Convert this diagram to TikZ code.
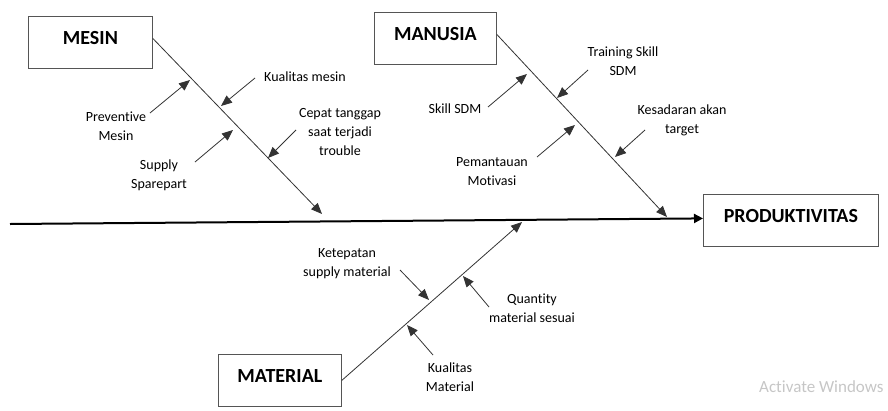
\documentclass[tikz,border=0pt]{standalone}
\usepackage{fontspec}
\setmainfont{Carlito}[Ligatures=NoCommon]
\usetikzlibrary{arrows.meta}
\definecolor{fishline}{HTML}{333333}
\definecolor{boxgray}{HTML}{555555}
\definecolor{watermark}{HTML}{C6C6C6}
\tikzset{
  category/.style={draw=boxgray,line width=0.8pt,anchor=north west,inner xsep=0pt,
    inner ysep=0pt,text height=28pt,text depth=24pt,
    font=\fontsize{20}{24}\selectfont\bfseries},
  cause/.style={align=center,inner sep=0pt,font=\fontsize{14}{19}\selectfont},
  bone/.style={draw=fishline,line width=0.8pt,-{Triangle[length=11pt,width=9pt]}},
  twig/.style={draw=fishline,line width=0.8pt,-{Triangle[length=11pt,width=9pt]}},
  spine/.style={draw=black,line width=2pt,-{Triangle[length=9pt,width=9pt]}}
}

\begin{document}
\begin{tikzpicture}[x=1pt,y=-1pt]
  \useasboundingbox (0,0) rectangle (888,410);
  \node[category,minimum width=124pt] (mesin) at (28,16) {MESIN};
  \node[category,minimum width=122pt] (manusia) at (374,12) {MANUSIA};
  \node[category,minimum width=123pt] (material) at (218,354) {MATERIAL};
  \node[category,minimum width=175pt] (produk) at (703,194) {PRODUKTIVITAS};

  \node[cause] (prev) at (116,126) {Preventive\\Mesin};
  \node[cause] (kmes) at (305,77) {Kualitas mesin};
  \node[cause] (supp) at (159,175) {Supply\\Sparepart};
  \node[cause] (cepat) at (340,132) {Cepat tanggap\\saat terjadi\\trouble};
  \node[cause] (train) at (623,61) {Training Skill\\SDM};
  \node[cause] (skill) at (455,109) {Skill SDM};
  \node[cause] (sadar) at (682,120) {Kesadaran akan\\target};
  \node[cause] (pantau) at (492,172) {Pemantauan\\Motivasi};
  \node[cause] (tepat) at (347,264) {Ketepatan\\supply material};
  \node[cause] (quant) at (532,308) {Quantity\\material sesuai};
  \node[cause] (kmat) at (450,377) {Kualitas\\Material};

  \coordinate (tail) at (10,224);
  \coordinate (mesin-t) at (322,214);
  \coordinate (manusia-t) at (667,217);
  \coordinate (material-t) at (522,222);
  \draw[spine] (tail) -- ([yshift=2pt]produk.west);
  \draw[bone] ([yshift=4pt]mesin.east) -- (mesin-t);
  \draw[bone] ([yshift=4pt]manusia.east) -- (manusia-t);
  \draw[bone] (material.east) -- (material-t);

  \coordinate (prev-s) at (150,113);   \coordinate (prev-t) at (190,80);
  \coordinate (kmes-s) at (255,78);    \coordinate (kmes-t) at (221,106);
  \coordinate (supp-s) at (195,162);   \coordinate (supp-t) at (233,130);
  \coordinate (cepat-s) at (296,130);  \coordinate (cepat-t) at (268,158);
  \coordinate (skill-s) at (488,107);  \coordinate (skill-t) at (527,74);
  \coordinate (train-s) at (588,70);   \coordinate (train-t) at (557,98);
  \coordinate (pantau-s) at (537,157); \coordinate (pantau-t) at (575,125);
  \coordinate (sadar-s) at (645,130);  \coordinate (sadar-t) at (615,157);
  \coordinate (tepat-s) at (400,270);  \coordinate (tepat-t) at (429,300);
  \coordinate (quant-s) at (489,307);  \coordinate (quant-t) at (463,276);
  \coordinate (kmat-s) at (433,355);   \coordinate (kmat-t) at (407,325);
  \foreach \c in {prev,kmes,supp,cepat,skill,train,pantau,sadar,tepat,quant,kmat}
    \draw[twig] (\c-s) -- (\c-t);

  \node[anchor=west,inner sep=0pt,text=watermark,font=\fontsize{17}{20}\selectfont]
    (aktivasi) at (759,387) {Activate Windows};
\end{tikzpicture}
\end{document}
